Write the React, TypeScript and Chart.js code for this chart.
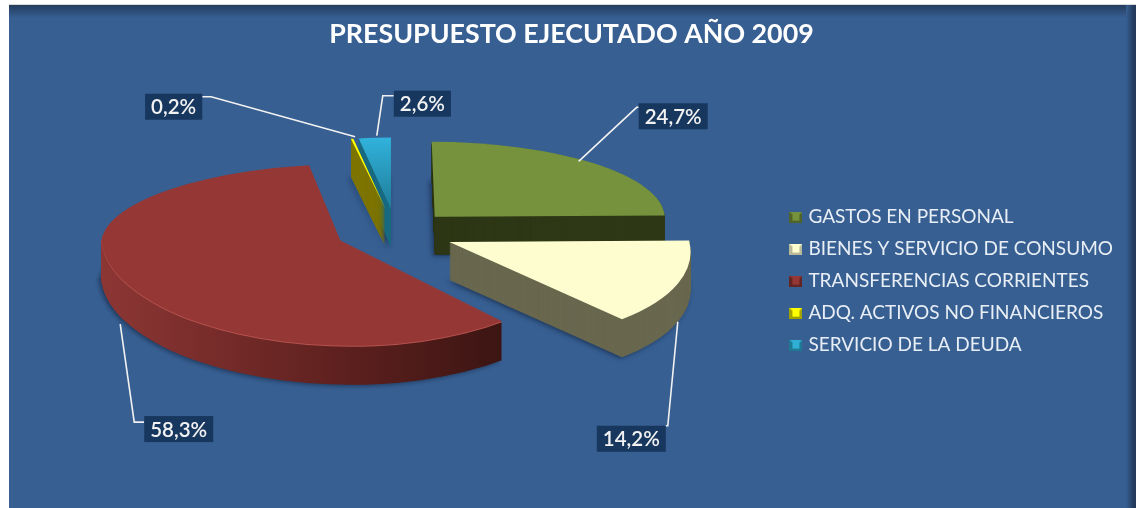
import React, { useEffect, useRef } from "react";
import { Chart, registerables } from "chart.js";

Chart.register(...registerables);

const titleText = "PRESUPUESTO EJECUTADO AÑO 2009";
const categories = [
  "GASTOS EN PERSONAL",
  "BIENES Y SERVICIO DE CONSUMO",
  "TRANSFERENCIAS CORRIENTES",
  "ADQ. ACTIVOS NO FINANCIEROS",
  "SERVICIO DE LA DEUDA",
];
const shares = [24.7, 14.2, 58.3, 0.2, 2.6];
const explode = [122, 126, 114, 124, 124];
const topColors = ["#76923c", "#fdfdd0", "#953735", "#ffff00", "#31aed4"];
const wallColors = ["#2f3817", "#69684f", "#6b2624", "#7e7500", "#1a6a80"];
const markerEdge = ["#4f6228", "#b8b89a", "#632523", "#a3a300", "#1d7a92"];

// 3D look of the tilted pie, per slice
const paintOrder = [4, 3, 0, 2, 1];
const rimWidth = [230, 240, 239, 198, 198];
const backTilt = [0.326, 0.3, 0.32, 0.36, 0.36];
const frontTilt = [0.42, 0.42, 0.44, 0.42, 0.42];
const frontSkew = [0, 0.24, 0.1, 0, 0];
const backSkew = [0.04, 0, -0.14, 0, 0];
const tipShiftX = [0, 0, 0, 4, 4];
// callouts: box position from the rim, the leader's bend from the box corner, leader start nudge
const labelBox = [
  [45, -60],
  [-81, 104],
  [16, 92],
  [-207, -45],
  [19, -47],
];
const labelBend = [
  [-2, 4],
  [71, 0],
  [-10, 6],
  [66, 3],
  [-11, 5],
];
const leaderNudge = [
  [-15, -2],
  [0, 0],
  [-8, 0],
  [3, -2],
  [2, -2],
];

const PANEL = "#375f92";
const DEPTH = 38;
const ZOOM = 2;
const CENTER_X = 392;
const CENTER_Y = 231;

function makeMarker(i: number) {
  const c = document.createElement("canvas");
  c.width = 13;
  c.height = 11;
  const g = c.getContext("2d")!;
  g.fillStyle = markerEdge[i];
  g.fillRect(0, 0, 13, 11);
  g.fillStyle = topColors[i];
  g.beginPath();
  g.moveTo(0, 0);
  g.lineTo(13, 0);
  g.lineTo(10, 3);
  g.lineTo(10, 9);
  g.lineTo(3, 9);
  g.lineTo(3, 3);
  g.closePath();
  g.fill();
  return c;
}

function geometry(arc: any, i: number) {
  const mid = (arc.startAngle + arc.endAngle) / 2;
  const o = (arc.options.offset || 0) / 4;
  const dx = Math.cos(mid) * o * ZOOM;
  const dy = Math.sin(mid) * o * ZOOM;
  const tipX = CENTER_X + dx + tipShiftX[i];
  const tipY = CENTER_Y + dy * (dy > 0 ? frontTilt[i] : backTilt[i]);
  return { mid, tipX, tipY, radius: arc.outerRadius };
}

function paintSlice(ctx: CanvasRenderingContext2D, arc: any, i: number, fill: any, lift: number, shadow = false) {
  const { tipX, tipY, radius } = geometry(arc, i);
  const saved = arc.options;
  // the explosion is applied by the view below: Chart.js' own offset would swallow thin slices
  arc.options = { ...saved, backgroundColor: fill, borderWidth: 0, offset: 0 };
  const a = rimWidth[i] / radius;
  const halves = [
    { tilt: backTilt[i], skew: backSkew[i], top: -2000, h: 2000 + 0.5 },
    { tilt: frontTilt[i], skew: frontSkew[i], top: 0, h: 2000 },
  ];
  for (const half of halves) {
    ctx.save();
    if (shadow) {
      ctx.shadowColor = "rgba(10,20,40,0.55)";
      ctx.shadowBlur = 5;
      ctx.shadowOffsetX = -2;
      ctx.shadowOffsetY = 1;
    }
    ctx.beginPath();
    ctx.rect(-2000, tipY + lift + half.top, 6000, half.h);
    ctx.clip();
    ctx.translate(tipX, tipY + lift);
    const d = half.tilt * a;
    ctx.transform(a, 0, half.skew * d, d, 0, 0);
    ctx.translate(-arc.x, -arc.y);
    arc.draw(ctx);
    ctx.restore();
  }
  arc.options = saved;
}

function paintCallouts(chart: any) {
  const { ctx } = chart;
  const arcs = chart.getDatasetMeta(0).data;
  ctx.save();
  ctx.font = "600 20.5px Lato";
  arcs.forEach((arc: any, i: number) => {
    const { mid, tipX, tipY } = geometry(arc, i);
    const front = Math.sin(mid) > 0;
    const rise = Math.sin(mid) * rimWidth[i] * (front ? frontTilt[i] : backTilt[i]);
    const rimX = tipX + Math.cos(mid) * rimWidth[i] + (front ? frontSkew[i] : backSkew[i]) * rise;
    const rimY = tipY + rise + (front ? DEPTH : 0);
    const text = shares[i].toFixed(1).replace(".", ",") + "%";
    const w = ctx.measureText(text).width + 12;
    const h = 26;
    const bx = rimX + labelBox[i][0];
    const by = rimY + labelBox[i][1];
    const bendX = bx + labelBend[i][0];
    const bendY = by + labelBend[i][1];
    const endX = bendX < bx ? bx : bendX > bx + w ? bx + w : bendX;
    ctx.strokeStyle = "#f2f2f2";
    ctx.lineWidth = 1.6;
    ctx.beginPath();
    ctx.moveTo(rimX + leaderNudge[i][0], rimY + leaderNudge[i][1]);
    ctx.lineTo(bendX, bendY);
    ctx.lineTo(endX, bendY);
    ctx.stroke();
    ctx.fillStyle = "#17375e";
    ctx.fillRect(bx, by, w, h);
    ctx.fillStyle = "#f2f2f2";
    ctx.textAlign = "center";
    ctx.textBaseline = "middle";
    ctx.fillText(text, bx + w / 2, by + h / 2 + 1);
  });
  ctx.restore();
}

const pie3d = {
  id: "pie3d",
  beforeDraw(chart: any) {
    const { ctx, width, height } = chart;
    ctx.save();
    ctx.fillStyle = "#ffffff";
    ctx.fillRect(0, 0, width, height);
    const left = 9;
    const top = 4;
    const right = 1136;
    ctx.fillStyle = PANEL;
    ctx.fillRect(left, top, right - left, height - top);
    const tg = ctx.createLinearGradient(0, top, 0, top + 14);
    tg.addColorStop(0, "#233a5a");
    tg.addColorStop(1, PANEL);
    ctx.fillStyle = tg;
    ctx.fillRect(left, top, right - left, 14);
    const rg = ctx.createLinearGradient(1126, 0, 1134, 0);
    rg.addColorStop(0, PANEL);
    rg.addColorStop(1, "#233a5a");
    ctx.fillStyle = rg;
    ctx.fillRect(1126, top, right - 1126, height - top);
    ctx.fillStyle = "#d9d9d9";
    ctx.fillRect(left, top, right - left, 1);
    ctx.restore();
  },
  beforeDatasetsDraw(chart: any) {
    const { ctx } = chart;
    const arcs = chart.getDatasetMeta(0).data;
    for (const i of paintOrder) {
      const arc = arcs[i];
      const radius = arc.outerRadius;
      let wall: any = wallColors[i];
      let top: any = topColors[i];
      if (i === 2) {
        const g = ctx.createLinearGradient(arc.x - radius, 0, arc.x + radius * 0.68, 0);
        g.addColorStop(0, "#8c3634");
        g.addColorStop(0.55, "#5f211f");
        g.addColorStop(1, "#3a1412");
        wall = g;
      }
      if (i === 4) {
        const g = ctx.createLinearGradient(0, arc.y - radius, 0, arc.y);
        g.addColorStop(0, "#31b2dc");
        g.addColorStop(1, "#1f7d99");
        top = g;
      }
      paintSlice(ctx, arc, i, wall, DEPTH, true);
      for (let d = DEPTH - 0.5; d > 0; d -= 0.5) paintSlice(ctx, arc, i, wall, d);
      if (i === 2) {
        paintSlice(ctx, arc, i, "#b5524e", 0);
        paintSlice(ctx, arc, i, top, -1);
      } else {
        paintSlice(ctx, arc, i, top, 0);
      }
    }
    paintCallouts(chart);
    return false;
  },
};

export default function App() {
  const ref = useRef<HTMLCanvasElement>(null);
  useEffect(() => {
    const chart = new Chart(ref.current!, {
      type: "pie",
      data: {
        labels: categories,
        datasets: [
          {
            data: shares,
            backgroundColor: topColors,
            borderWidth: 0,
            offset: explode,
            radius: 88,
          } as any,
        ],
      },
      plugins: [pie3d as any],
      options: {
        responsive: false,
        animation: false,
        rotation: 0,
        layout: { padding: { left: 20, right: 16 } },
        plugins: {
          tooltip: { enabled: false },
          title: {
            display: true,
            text: titleText,
            color: "#ffffff",
            font: { family: "Lato", size: 26.8, weight: "bold" },
            padding: { top: 18, bottom: 4 },
          },
          legend: {
            position: "right",
            fullSize: false,
            labels: {
              color: "#e8eef5",
              font: { family: "Lato", size: 19 },
              usePointStyle: true,
              pointStyleWidth: 6,
              padding: 13,
              generateLabels: () =>
                categories.map((text, i) => ({
                  text,
                  fillStyle: topColors[i],
                  strokeStyle: topColors[i],
                  lineWidth: 0,
                  hidden: false,
                  index: i,
                  pointStyle: makeMarker(i),
                  fontColor: "#e8eef5",
                })),
            },
          },
        },
      } as any,
    });
    return () => chart.destroy();
  }, []);
  return (
    <div style={{ position: "absolute", left: 0, top: 0, width: 1139, height: 508 }}>
      <canvas ref={ref} width={1139} height={508} style={{ display: "block" }} />
    </div>
  );
}
